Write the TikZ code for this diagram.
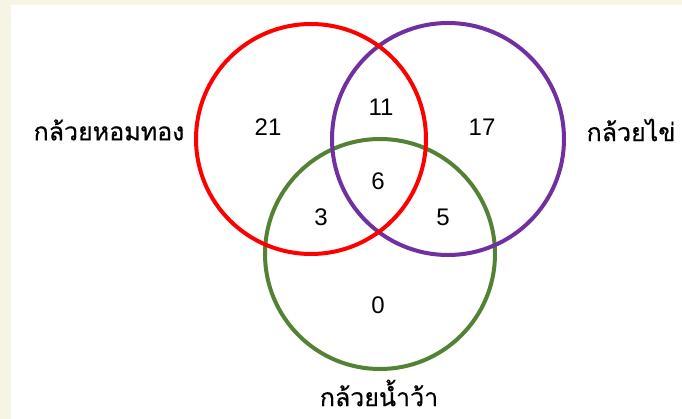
\documentclass[tikz,border=0pt]{standalone}
\usepackage{fontspec}
\newfontfamily\thaifont[Script=Thai,FakeBold=0.5]{Loma}
\setmainfont{Liberation Sans}
\definecolor{vred}{HTML}{FF0000}
\definecolor{vpurple}{HTML}{7030A0}
\definecolor{vgreen}{HTML}{548235}
\definecolor{parch}{HTML}{F6F4E4}
\begin{document}
\begin{tikzpicture}[x=1pt,y=-1pt,
  setc/.style={line width=4pt},
  num/.style={font=\fontsize{24}{26}\selectfont, inner sep=0pt},
  lab/.style={font=\thaifont\fontsize{25}{28}\selectfont, inner sep=0pt}]
\useasboundingbox (0,0) rectangle (682,419);
\fill[parch] (0,0) rectangle (682,419);
\fill[white] (11,5) rectangle (682,419);
\node[draw=vgreen, setc, circle, minimum size=230pt, inner sep=0pt] (green) at (380,254) {};
\node[draw=vpurple, setc, circle, minimum size=232pt, inner sep=0pt] (purple) at (448,139) {};
\node[draw=vred, setc, circle, minimum size=230pt, inner sep=0pt] (red) at (311,139) {};
\node[num] (n21) at (268,127) {21};
\node[num] (n11) at (381,107) {11};
\node[num] (n17) at (482,127) {17};
\node[num] (n6) at (378,181) {6};
\node[num] (n3) at (321,217) {3};
\node[num] (n5) at (443,217) {5};
\node[num] (n0) at (378,305) {0};
\node[lab] (lhom) at (109,130) {กล้วยหอมทอง};
\node[lab] (lkai) at (631,130) {กล้วยไข่};
\node[lab] (lnam) at (379,393) {กล้วยน้ำว้า};
\end{tikzpicture}
\end{document}
